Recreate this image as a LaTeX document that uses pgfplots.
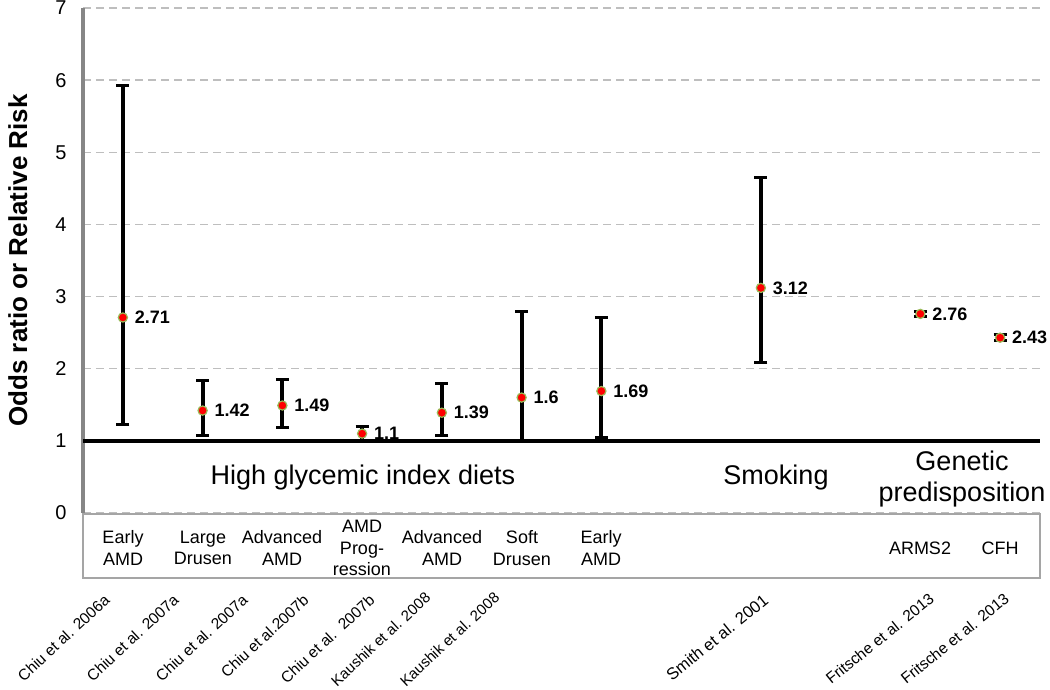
\documentclass[border=0pt]{standalone}
\usepackage{pgfplots}
\pgfplotsset{compat=1.18}
\usepackage{pgfplotstable}
\usepackage{fontspec}
\setmainfont{Liberation Sans}
\definecolor{mkborder}{RGB}{155,187,89}
\definecolor{gridgray}{RGB}{190,190,190}
\definecolor{axisgray}{RGB}{134,134,134}
\definecolor{boxgray}{RGB}{165,165,165}

\pgfplotstableread{
x y ep em lab
0 2.71 3.22 1.48 2.71
1 1.42 0.42 0.34 1.42
2 1.49 0.36 0.31 1.49
3 1.10 0.10 0.10 1.1
4 1.39 0.40 0.32 1.39
5 1.60 1.19 0.59 1.6
6 1.69 1.02 0.65 1.69
8 3.12 1.53 1.03 3.12
10 2.76 0.04 0.04 2.76
11 2.43 0.04 0.04 2.43
}\data

\begin{document}
\begin{tikzpicture}[x=1pt,y=1pt]
\path[use as bounding box] (0,0) rectangle (1050,689);
\begin{axis}[
  at={(83pt,176pt)}, anchor=south west,
  scale only axis, width=957pt, height=505pt,
  xmin=-0.5, xmax=11.5, ymin=0, ymax=7,
  axis x line=none, axis y line*=left,
  y axis line style={axisgray, line width=4.3pt, -},
  ytick={0,1,...,7}, major tick length=0pt,
  yticklabel style={font=\fontsize{20}{20}\selectfont, xshift=-13pt},
  ymajorgrids, grid style={gridgray, line width=1.5pt, dash pattern=on 8pt off 5pt},
  ylabel={\textbf{Odds ratio or Relative Risk}},
  ylabel style={font=\fontsize{26}{26}\selectfont, at={(axis description cs:-0.068,0.5)}, anchor=center},
  clip=false,
  /pgf/number format/assume math mode=true,
]
\draw[black, line width=4.5pt] (axis cs:-0.5,1) -- (axis cs:11.5,1);
\addplot[only marks, mark=none,
  error bars/.cd, y dir=both, y explicit,
  error bar style={draw=black, solid, line width=3.8pt},
  error mark options={draw=black, rotate=90, mark size=6.5pt, line width=3pt}]
  table[x=x, y=y, y error plus=ep, y error minus=em] {\data};
\addplot[only marks, mark=*, mark size=4.6pt,
  mark options={fill=red, draw=mkborder, line width=1.2pt},
  point meta=explicit symbolic, nodes near coords,
  nodes near coords style={anchor=west, xshift=8pt, text=black,
    font=\bfseries\fontsize{18}{18}\selectfont}]
  table[x=x, y=y, meta=lab] {\data};
\end{axis}
% group labels
\begin{scope}[every node/.style={font=\fontsize{27}{31}\selectfont, align=center}]
\node at (363,211) {High glycemic index diets};
\node at (776,211) {Smoking};
\node at (962,210) {Genetic\\predisposition};
\end{scope}
% category box
\draw[boxgray, line width=1.5pt] (83,175) rectangle (1040,111);
\begin{scope}[every node/.style={font=\fontsize{18}{21.5}\selectfont, align=center}]
\node at (123,141) {Early\\AMD};
\node at (203,141) {Large\\Drusen};
\node at (282,141) {Advanced\\AMD};
\node at (362,141) {AMD\\Prog-\\ression};
\node at (442,141) {Advanced\\AMD};
\node at (522,141) {Soft\\Drusen};
\node at (601,141) {Early\\AMD};
\node at (920,141) {ARMS2};
\node at (1000,141) {CFH};
\end{scope}
% study labels
\begin{scope}[every node/.style={font=\fontsize{15.5}{15.5}\selectfont, rotate=43, anchor=north east, inner sep=0pt}]
\node at (103,96) {Chiu et al. 2006a};
\node at (172,96) {Chiu et al. 2007a};
\node at (241,96) {Chiu et al. 2007a};
\node at (302,96) {Chiu et al.2007b};
\node at (368,96) {Chiu et al.\ \ 2007b};
\node[font=\fontsize{15}{15}\selectfont] at (424,98) {Kaushik et al. 2008};
\node[font=\fontsize{15}{15}\selectfont] at (493,98) {Kaushik et al. 2008};
\end{scope}
\begin{scope}[every node/.style={rotate=39, anchor=north east, inner sep=0pt}]
\node[font=\fontsize{16.5}{16.5}\selectfont] at (762,96) {Smith et al. 2001};
\node[font=\fontsize{15.5}{15.5}\selectfont] at (928,97) {Fritsche et al. 2013};
\node[font=\fontsize{15.5}{15.5}\selectfont] at (1003,97) {Fritsche et al. 2013};
\end{scope}
\end{tikzpicture}
\end{document}
